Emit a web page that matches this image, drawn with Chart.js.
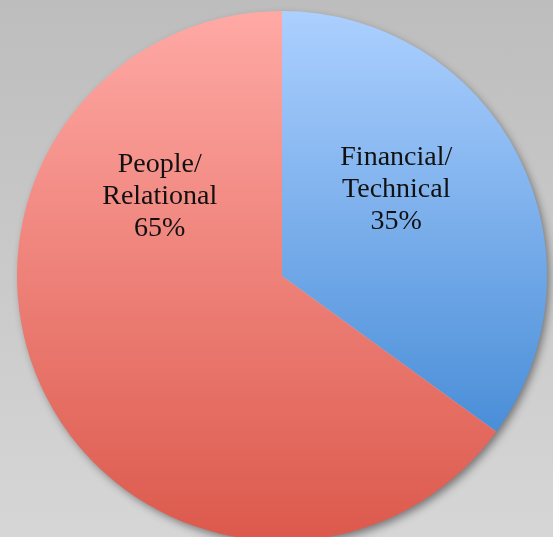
<!DOCTYPE html>
<html>
<head>
<meta charset="utf-8">
<script src="https://cdn.jsdelivr.net/npm/chart.js@4"></script>
<style>
    html, body { margin: 0; padding: 0; overflow: hidden; }
    body { width: 553px; height: 537px; background: linear-gradient(#bdbdbd, #d6d6d6); }
    #wrap { position: relative; width: 553px; height: 545px; }
</style>
</head>
<body>
<div id="wrap"><canvas id="pie"></canvas></div>
<script>
    'use strict';

    var categories = [['Financial/', 'Technical'], ['People/', 'Relational']];
    var shares = [35, 65];
    var percentLabels = ['35%', '65%'];

    // top and bottom colour of each slice's vertical gradient
    var gradientTop = ['#acd0ff', '#ffa9a5'];
    var gradientBottom = ['#4a8ed8', '#dc594c'];

    // where each label sits: fraction of the radius, angle clockwise from 12 o'clock
    var labelPlacement = [
        { radius: 0.54, angle: 53 },
        { radius: 0.55, angle: 303 }
    ];

    function sliceAngles(index) {
        var total = shares.reduce(function(a, b) { return a + b; }, 0);
        var start = 0;
        for (var i = 0; i < index; i++) start += shares[i] / total * Math.PI * 2;
        return { start: start, end: start + shares[index] / total * Math.PI * 2 };
    }

    // vertical extent of a slice, as multiples of the radius from the centre
    function sliceExtent(index) {
        var a = sliceAngles(index);
        var top = 0, bottom = 0;
        var steps = 180;
        for (var s = 0; s <= steps; s++) {
            var t = a.start + (a.end - a.start) * s / steps;
            var y = -Math.cos(t);
            top = Math.min(top, y);
            bottom = Math.max(bottom, y);
        }
        return { top: top, bottom: bottom };
    }

    function sliceFill(context) {
        var chart = context.chart;
        var area = chart.chartArea;
        if (!area) return gradientTop[context.dataIndex];
        var cy = (area.top + area.bottom) / 2;
        var r = Math.min(area.right - area.left, area.bottom - area.top) / 2;
        var ext = sliceExtent(context.dataIndex);
        var g = chart.ctx.createLinearGradient(0, cy + ext.top * r, 0, cy + ext.bottom * r);
        g.addColorStop(0, gradientTop[context.dataIndex]);
        g.addColorStop(1, gradientBottom[context.dataIndex]);
        return g;
    }

    // soft drop shadow under the whole pie
    var pieShadow = {
        id: 'pieShadow',
        beforeDatasetsDraw: function(chart) {
            var arc = chart.getDatasetMeta(0).data[0];
            if (!arc) return;
            var ctx = chart.ctx;
            ctx.save();
            ctx.shadowColor = 'rgba(0, 0, 0, 0.45)';
            ctx.shadowBlur = 8;
            ctx.shadowOffsetX = 3;
            ctx.shadowOffsetY = 4;
            ctx.fillStyle = '#c8c8c8';
            ctx.beginPath();
            ctx.arc(arc.x, arc.y, arc.outerRadius - 1, 0, Math.PI * 2);
            ctx.fill();
            ctx.restore();
        }
    };

    // category name and percentage written inside each slice
    var sliceLabels = {
        id: 'sliceLabels',
        afterDatasetsDraw: function(chart) {
            var meta = chart.getDatasetMeta(0);
            var ctx = chart.ctx;
            ctx.save();
            ctx.font = '28px "Liberation Serif", serif';
            ctx.fillStyle = '#111';
            ctx.textAlign = 'center';
            ctx.textBaseline = 'middle';
            meta.data.forEach(function(arc, i) {
                var p = labelPlacement[i];
                var t = p.angle * Math.PI / 180;
                var x = arc.x + Math.sin(t) * arc.outerRadius * p.radius;
                var y = arc.y - Math.cos(t) * arc.outerRadius * p.radius;
                var lines = categories[i].concat([percentLabels[i]]);
                var lh = 32;
                lines.forEach(function(line, k) {
                    ctx.fillText(line, x, y + (k - (lines.length - 1) / 2) * lh);
                });
            });
            ctx.restore();
        }
    };

    new Chart(document.getElementById('pie'), {
        type: 'pie',
        data: {
            labels: categories.map(function(c) { return c.join(' '); }),
            datasets: [{
                data: shares,
                backgroundColor: sliceFill,
                borderWidth: 0,
                hoverOffset: 0
            }]
        },
        options: {
            responsive: true,
            maintainAspectRatio: false,
            animation: false,
            layout: { padding: { left: 17, right: 6, top: 11, bottom: 4 } },
            plugins: {
                legend: { display: false },
                tooltip: { enabled: false }
            }
        },
        plugins: [pieShadow, sliceLabels]
    });
</script>
</body>
</html>
